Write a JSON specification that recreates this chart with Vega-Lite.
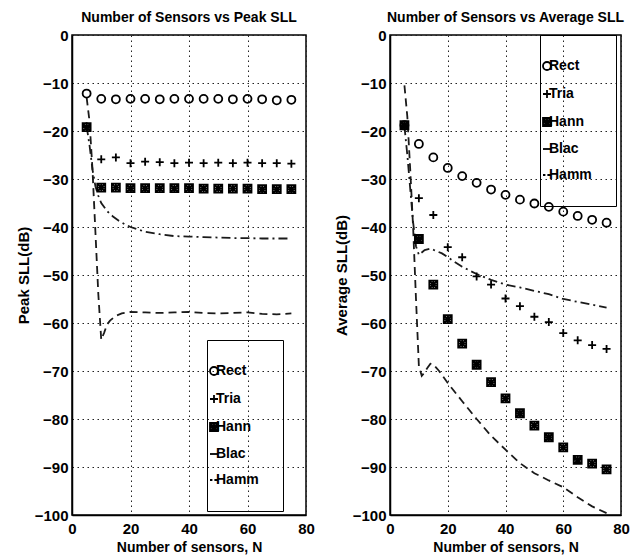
{
  "$schema": "https://vega.github.io/schema/vega-lite/v6.json",
  "background": "white",
  "padding": {"left": 15, "top": 10, "right": 4, "bottom": 0},
  "spacing": 17,
  "datasets": {
    "peakPoints": [
      {"N": 5, "window": "Rect", "sll": -12.2}, {"N": 10, "window": "Rect", "sll": -13.3}, {"N": 15, "window": "Rect", "sll": -13.4},
      {"N": 20, "window": "Rect", "sll": -13.3}, {"N": 25, "window": "Rect", "sll": -13.3}, {"N": 30, "window": "Rect", "sll": -13.4},
      {"N": 35, "window": "Rect", "sll": -13.3}, {"N": 40, "window": "Rect", "sll": -13.3}, {"N": 45, "window": "Rect", "sll": -13.3},
      {"N": 50, "window": "Rect", "sll": -13.3}, {"N": 55, "window": "Rect", "sll": -13.4}, {"N": 60, "window": "Rect", "sll": -13.3},
      {"N": 65, "window": "Rect", "sll": -13.4}, {"N": 70, "window": "Rect", "sll": -13.6}, {"N": 75, "window": "Rect", "sll": -13.5},
      {"N": 5, "window": "Tria", "sll": -19.0}, {"N": 10, "window": "Tria", "sll": -25.9}, {"N": 15, "window": "Tria", "sll": -25.5},
      {"N": 20, "window": "Tria", "sll": -26.7}, {"N": 25, "window": "Tria", "sll": -26.4}, {"N": 30, "window": "Tria", "sll": -26.5},
      {"N": 35, "window": "Tria", "sll": -26.7}, {"N": 40, "window": "Tria", "sll": -26.6}, {"N": 45, "window": "Tria", "sll": -26.7},
      {"N": 50, "window": "Tria", "sll": -26.6}, {"N": 55, "window": "Tria", "sll": -26.7}, {"N": 60, "window": "Tria", "sll": -26.6},
      {"N": 65, "window": "Tria", "sll": -26.7}, {"N": 70, "window": "Tria", "sll": -26.7}, {"N": 75, "window": "Tria", "sll": -26.8},
      {"N": 5, "window": "Hann", "sll": -19.2}, {"N": 10, "window": "Hann", "sll": -31.8}, {"N": 15, "window": "Hann", "sll": -31.8},
      {"N": 20, "window": "Hann", "sll": -31.9}, {"N": 25, "window": "Hann", "sll": -31.9}, {"N": 30, "window": "Hann", "sll": -31.9},
      {"N": 35, "window": "Hann", "sll": -31.9}, {"N": 40, "window": "Hann", "sll": -31.9}, {"N": 45, "window": "Hann", "sll": -32.0},
      {"N": 50, "window": "Hann", "sll": -32.0}, {"N": 55, "window": "Hann", "sll": -32.0}, {"N": 60, "window": "Hann", "sll": -32.0},
      {"N": 65, "window": "Hann", "sll": -32.1}, {"N": 70, "window": "Hann", "sll": -32.1}, {"N": 75, "window": "Hann", "sll": -32.1}
    ],
    "peakLines": [
      {"N": 5, "window": "Blac", "sll": -13.0}, {"N": 6, "window": "Blac", "sll": -18.0}, {"N": 7, "window": "Blac", "sll": -28.0},
      {"N": 8, "window": "Blac", "sll": -41.0}, {"N": 9, "window": "Blac", "sll": -54.0}, {"N": 10, "window": "Blac", "sll": -63.5},
      {"N": 11, "window": "Blac", "sll": -62.0}, {"N": 12, "window": "Blac", "sll": -60.3}, {"N": 13, "window": "Blac", "sll": -59.5},
      {"N": 15, "window": "Blac", "sll": -58.5}, {"N": 17, "window": "Blac", "sll": -58.0}, {"N": 20, "window": "Blac", "sll": -57.7},
      {"N": 25, "window": "Blac", "sll": -57.8}, {"N": 30, "window": "Blac", "sll": -57.9}, {"N": 35, "window": "Blac", "sll": -57.8},
      {"N": 40, "window": "Blac", "sll": -57.7}, {"N": 45, "window": "Blac", "sll": -57.9}, {"N": 50, "window": "Blac", "sll": -58.0},
      {"N": 55, "window": "Blac", "sll": -57.9}, {"N": 60, "window": "Blac", "sll": -57.8}, {"N": 65, "window": "Blac", "sll": -58.1},
      {"N": 70, "window": "Blac", "sll": -58.2}, {"N": 75, "window": "Blac", "sll": -58.0},
      {"N": 5, "window": "Hamm", "sll": -19.0}, {"N": 6, "window": "Hamm", "sll": -23.0}, {"N": 7, "window": "Hamm", "sll": -28.0},
      {"N": 8, "window": "Hamm", "sll": -31.5}, {"N": 9, "window": "Hamm", "sll": -33.5}, {"N": 10, "window": "Hamm", "sll": -35.0},
      {"N": 12, "window": "Hamm", "sll": -36.7}, {"N": 14, "window": "Hamm", "sll": -37.8}, {"N": 16, "window": "Hamm", "sll": -38.7},
      {"N": 18, "window": "Hamm", "sll": -39.4}, {"N": 20, "window": "Hamm", "sll": -40.0}, {"N": 25, "window": "Hamm", "sll": -41.0},
      {"N": 30, "window": "Hamm", "sll": -41.5}, {"N": 35, "window": "Hamm", "sll": -41.9}, {"N": 40, "window": "Hamm", "sll": -42.0},
      {"N": 45, "window": "Hamm", "sll": -42.1}, {"N": 50, "window": "Hamm", "sll": -42.2}, {"N": 55, "window": "Hamm", "sll": -42.3},
      {"N": 60, "window": "Hamm", "sll": -42.3}, {"N": 65, "window": "Hamm", "sll": -42.4}, {"N": 70, "window": "Hamm", "sll": -42.4},
      {"N": 75, "window": "Hamm", "sll": -42.4}
    ],
    "avgPoints": [
      {"N": 5, "window": "Rect", "sll": -18.8}, {"N": 10, "window": "Rect", "sll": -22.7}, {"N": 15, "window": "Rect", "sll": -25.5},
      {"N": 20, "window": "Rect", "sll": -27.7}, {"N": 25, "window": "Rect", "sll": -29.4}, {"N": 30, "window": "Rect", "sll": -30.8},
      {"N": 35, "window": "Rect", "sll": -32.2}, {"N": 40, "window": "Rect", "sll": -33.3}, {"N": 45, "window": "Rect", "sll": -34.3},
      {"N": 50, "window": "Rect", "sll": -35.1}, {"N": 55, "window": "Rect", "sll": -35.8}, {"N": 60, "window": "Rect", "sll": -36.8},
      {"N": 65, "window": "Rect", "sll": -37.7}, {"N": 70, "window": "Rect", "sll": -38.5}, {"N": 75, "window": "Rect", "sll": -39.1},
      {"N": 5, "window": "Tria", "sll": -19.0}, {"N": 10, "window": "Tria", "sll": -34.0}, {"N": 15, "window": "Tria", "sll": -37.5},
      {"N": 20, "window": "Tria", "sll": -44.2}, {"N": 25, "window": "Tria", "sll": -46.3}, {"N": 30, "window": "Tria", "sll": -50.3},
      {"N": 35, "window": "Tria", "sll": -52.0}, {"N": 40, "window": "Tria", "sll": -54.9}, {"N": 45, "window": "Tria", "sll": -56.5},
      {"N": 50, "window": "Tria", "sll": -58.7}, {"N": 55, "window": "Tria", "sll": -59.8}, {"N": 60, "window": "Tria", "sll": -62.1},
      {"N": 65, "window": "Tria", "sll": -63.6}, {"N": 70, "window": "Tria", "sll": -64.6}, {"N": 75, "window": "Tria", "sll": -65.4},
      {"N": 5, "window": "Hann", "sll": -18.8}, {"N": 10, "window": "Hann", "sll": -42.5}, {"N": 15, "window": "Hann", "sll": -52.0},
      {"N": 20, "window": "Hann", "sll": -59.2}, {"N": 25, "window": "Hann", "sll": -64.3}, {"N": 30, "window": "Hann", "sll": -68.7},
      {"N": 35, "window": "Hann", "sll": -72.3}, {"N": 40, "window": "Hann", "sll": -75.7}, {"N": 45, "window": "Hann", "sll": -78.8},
      {"N": 50, "window": "Hann", "sll": -81.4}, {"N": 55, "window": "Hann", "sll": -83.8}, {"N": 60, "window": "Hann", "sll": -85.9},
      {"N": 65, "window": "Hann", "sll": -88.5}, {"N": 70, "window": "Hann", "sll": -89.3}, {"N": 75, "window": "Hann", "sll": -90.5}
    ],
    "avgLines": [
      {"N": 5, "window": "Blac", "sll": -10.5}, {"N": 6, "window": "Blac", "sll": -17.0}, {"N": 7, "window": "Blac", "sll": -28.0},
      {"N": 8, "window": "Blac", "sll": -40.0}, {"N": 9, "window": "Blac", "sll": -55.0}, {"N": 10, "window": "Blac", "sll": -69.0},
      {"N": 11, "window": "Blac", "sll": -71.0}, {"N": 12, "window": "Blac", "sll": -70.3}, {"N": 13, "window": "Blac", "sll": -69.3},
      {"N": 14, "window": "Blac", "sll": -68.5}, {"N": 15, "window": "Blac", "sll": -68.6}, {"N": 17, "window": "Blac", "sll": -70.0},
      {"N": 20, "window": "Blac", "sll": -72.5}, {"N": 25, "window": "Blac", "sll": -76.3}, {"N": 30, "window": "Blac", "sll": -80.0},
      {"N": 35, "window": "Blac", "sll": -83.5}, {"N": 40, "window": "Blac", "sll": -86.4}, {"N": 45, "window": "Blac", "sll": -89.2},
      {"N": 50, "window": "Blac", "sll": -91.3}, {"N": 55, "window": "Blac", "sll": -92.8}, {"N": 60, "window": "Blac", "sll": -94.2},
      {"N": 65, "window": "Blac", "sll": -96.3}, {"N": 70, "window": "Blac", "sll": -98.2}, {"N": 75, "window": "Blac", "sll": -99.6},
      {"N": 5, "window": "Hamm", "sll": -19.0}, {"N": 6, "window": "Hamm", "sll": -25.0}, {"N": 7, "window": "Hamm", "sll": -32.0},
      {"N": 8, "window": "Hamm", "sll": -39.0}, {"N": 9, "window": "Hamm", "sll": -44.0}, {"N": 10, "window": "Hamm", "sll": -45.8},
      {"N": 11, "window": "Hamm", "sll": -45.3}, {"N": 12, "window": "Hamm", "sll": -44.8}, {"N": 14, "window": "Hamm", "sll": -44.5},
      {"N": 16, "window": "Hamm", "sll": -45.0}, {"N": 18, "window": "Hamm", "sll": -45.5}, {"N": 20, "window": "Hamm", "sll": -46.3},
      {"N": 25, "window": "Hamm", "sll": -48.3}, {"N": 30, "window": "Hamm", "sll": -49.8}, {"N": 35, "window": "Hamm", "sll": -51.0},
      {"N": 40, "window": "Hamm", "sll": -52.0}, {"N": 45, "window": "Hamm", "sll": -52.6}, {"N": 50, "window": "Hamm", "sll": -53.3},
      {"N": 55, "window": "Hamm", "sll": -54.0}, {"N": 60, "window": "Hamm", "sll": -55.0}, {"N": 65, "window": "Hamm", "sll": -55.6},
      {"N": 70, "window": "Hamm", "sll": -56.2}, {"N": 75, "window": "Hamm", "sll": -56.8}
    ]
  },
  "hconcat": [
    {
      "title": "Number of Sensors vs Peak SLL",
      "width": 234,
      "height": 480,
      "layer": [
        {
          "data": {"name": "peakLines"},
          "mark": {"type": "line", "color": "#1a1a1a", "strokeWidth": 1.8},
          "encoding": {
            "x": {"field": "N", "type": "quantitative", "scale": {"domain": [0, 80], "nice": false}, "axis": {"values": [0, 20, 40, 60, 80], "title": "Number of sensors, N"}},
            "y": {"field": "sll", "type": "quantitative", "scale": {"domain": [-100, 0], "nice": false}, "axis": {"values": [-100, -90, -80, -70, -60, -50, -40, -30, -20, -10, 0], "title": "Peak SLL(dB)"}},
            "strokeDash": {"field": "window", "type": "nominal", "scale": {"domain": ["Blac", "Hamm"], "range": [[8, 5], [9, 4, 2, 4]]}, "legend": null}
          }
        },
        {
          "data": {"name": "peakPoints"},
          "mark": {"type": "point", "filled": false, "color": "black", "size": 64, "strokeWidth": 1.8, "opacity": 1},
          "encoding": {
            "x": {"field": "N", "type": "quantitative"},
            "y": {"field": "sll", "type": "quantitative"},
            "shape": {
              "field": "window", "type": "nominal",
              "scale": {
                "domain": ["Rect", "Tria", "Hann", "Blac", "Hamm"],
                "range": ["circle", "M-1,0H1M0,-1V1", "M-1,-1H1V1H-1ZM-1,-1L1,1M1,-1L-1,1M0,-1V1M-1,0H1", "M-1,0H1", "M-1,0H-0.4M0.1,0H1"]
              },
              "legend": {"orient": "none", "legendX": 135, "legendY": 305}
            }
          }
        }
      ]
    },
    {
      "title": "Number of Sensors vs Average SLL",
      "width": 231,
      "height": 480,
      "layer": [
        {
          "data": {"name": "avgLines"},
          "mark": {"type": "line", "color": "#1a1a1a", "strokeWidth": 1.8},
          "encoding": {
            "x": {"field": "N", "type": "quantitative", "scale": {"domain": [0, 80], "nice": false}, "axis": {"values": [0, 20, 40, 60, 80], "title": "Number of sensors, N"}},
            "y": {"field": "sll", "type": "quantitative", "scale": {"domain": [-100, 0], "nice": false}, "axis": {"values": [-100, -90, -80, -70, -60, -50, -40, -30, -20, -10, 0], "title": "Average SLL(dB)"}},
            "strokeDash": {"field": "window", "type": "nominal", "scale": {"domain": ["Blac", "Hamm"], "range": [[8, 5], [9, 4, 2, 4]]}, "legend": null}
          }
        },
        {
          "data": {"name": "avgPoints"},
          "mark": {"type": "point", "filled": false, "color": "black", "size": 64, "strokeWidth": 1.8, "opacity": 1},
          "encoding": {
            "x": {"field": "N", "type": "quantitative"},
            "y": {"field": "sll", "type": "quantitative"},
            "shape": {
              "field": "window", "type": "nominal",
              "scale": {
                "domain": ["Rect", "Tria", "Hann", "Blac", "Hamm"],
                "range": ["circle", "M-1,0H1M0,-1V1", "M-1,-1H1V1H-1ZM-1,-1L1,1M1,-1L-1,1M0,-1V1M-1,0H1", "M-1,0H1", "M-1,0H-0.4M0.1,0H1"]
              },
              "legend": {"orient": "none", "legendX": 150, "legendY": 0}
            }
          }
        }
      ]
    }
  ],
  "resolve": {
    "scale": {"shape": "independent", "strokeDash": "independent"},
    "legend": {"shape": "independent", "strokeDash": "independent"}
  },
  "config": {
    "font": "Liberation Sans",
    "view": {"stroke": "black", "strokeWidth": 1.5},
    "title": {"font": "Liberation Sans", "fontSize": 14, "fontWeight": "bold", "color": "black", "offset": 3, "anchor": "middle"},
    "axis": {
      "labelFont": "Liberation Sans", "labelFontSize": 15, "labelFontWeight": "bold", "labelColor": "black",
      "titleFont": "Liberation Sans", "titleFontSize": 14, "titleFontWeight": "bold", "titleColor": "black",
      "grid": true, "gridColor": "#222", "gridDash": [1.5, 3.5], "gridWidth": 1, "gridOpacity": 1,
      "ticks": false, "domain": true, "domainColor": "black", "domainWidth": 1.5, "labelFlush": false
    },
    "axisX": {"labelPadding": 6, "titlePadding": 4},
    "axisY": {"labelPadding": 4, "titlePadding": 3, "titleFontSize": 15},
    "legend": {
      "title": null, "strokeColor": "black", "fillColor": null, "padding": 24, "rowPadding": 12,
      "symbolOffset": -24, "labelOffset": -5, "symbolSize": 64, "symbolStrokeWidth": 1.8, "symbolStrokeColor": "black",
      "labelFont": "Liberation Sans", "labelFontSize": 14, "labelFontWeight": "bold", "labelColor": "black"
    }
  }
}
